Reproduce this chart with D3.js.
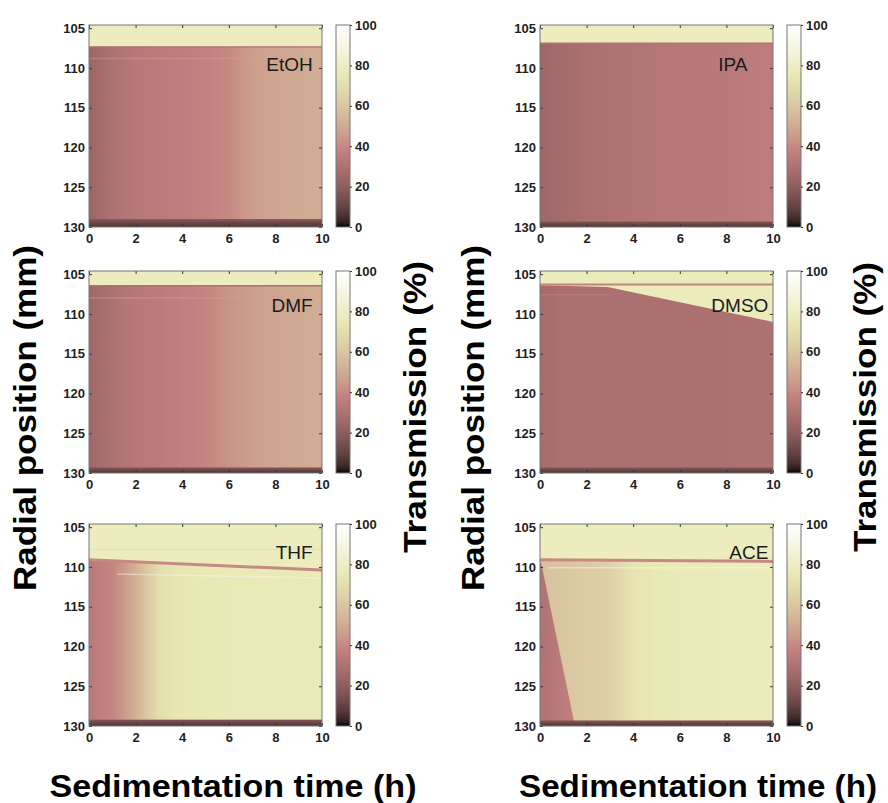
<!DOCTYPE html>
<html lang="en">
<head>
<meta charset="UTF-8">
<title>Sedimentation heatmaps</title>
<script src="https://d3js.org/d3.v7.min.js"></script>
<style>
  body { margin: 0; background: #fff; }
  text { font-family: "Liberation Sans", Arial, sans-serif; }
</style>
</head>
<body>
<div id="chart"></div>
<script>
// panels, row by row
var solvents = ["EtOH", "IPA", "DMF", "DMSO", "THF", "ACE"];

// time stops (h) where the bulk transmission was read
var times = [0, 1, 2, 3, 4, 5, 6, 7, 8, 9, 10];

// bulk transmission (%) below the meniscus at each time stop
var bulkEtOH = [24, 30, 33, 35, 36, 38, 40, 46, 48, 50, 51];
var bulkIPA  = [25, 27, 29, 30, 31, 32, 33, 33, 34, 35, 36];
var bulkDMF  = [25, 30, 33, 35, 37, 39, 43, 46, 48, 50, 51];
var bulkDMSO = [27, 29, 29, 29, 29, 29, 29, 29, 29, 30, 30];
var bulkTHF  = [34, 39, 52, 70, 74, 75, 76, 76, 76, 76, 76];
var bulkACE  = [58, 60, 62, 64, 73, 75, 76, 76, 77, 77, 77];
var bulk = [bulkEtOH, bulkIPA, bulkDMF, bulkDMSO, bulkTHF, bulkACE];

// meniscus (mm) at t = 0 and t = 10
var meniscusStart = [107.35, 106.9, 106.45, 106.3, 109.1, 109.1];
var meniscusEnd   = [107.35, 106.9, 106.45, 106.3, 110.4, 109.3];
var meniscusLine  = [30, 30, 30, 38, 40, 40];   // transmission of the meniscus line (%)
var airValue      = [78, 78, 78, 77, 78, 78];   // clear layer above the meniscus (%)
var bottomStart   = [129.0, 129.3, 129.3, 129.3, 129.2, 129.3];
var bottomValues  = [18, 6];                    // dark band at the cell bottom, top -> base (%)

// DMSO: front of the clear zone
var dmsoFrontTime = [0, 2.9, 10];
var dmsoFrontPos  = [106.4, 106.6, 111.0];
// ACE: unsettled wedge at early times
var aceWedgeTime  = [0.05, 1.5];
var aceWedgePos   = [109.5, 130];
var aceWedgeValue = [30, 38];

// faint streaks: [panel, t0, r0, t1, r1, transmission]
var streaks = [
  [0, 0, 108.8, 10, 108.8, 48],
  [2, 0, 108.0, 10, 108.0, 48],
  [3, 0, 107.6, 2.9, 107.6, 40],
  [4, 0, 107.8, 10, 107.8, 68],
  [4, 1.2, 110.9, 10, 111.4, 92],
  [5, 0.3, 110.1, 10, 110.1, 94]
];

var xTicks = [0, 2, 4, 6, 8, 10];
var yTicks = [105, 110, 115, 120, 125, 130];
var cTicks = [0, 20, 40, 60, 80, 100];

// matlab "pink" colormap
function pink(p) {
  var v = Math.max(0, Math.min(1, p / 100));
  var hr = Math.min(1, v / 0.375),
      hg = Math.max(0, Math.min(1, (v - 0.375) / 0.375)),
      hb = Math.max(0, (v - 0.75) / 0.25);
  return d3.rgb(255 * Math.sqrt((2 * v + hr) / 3),
                255 * Math.sqrt((2 * v + hg) / 3),
                255 * Math.sqrt((2 * v + hb) / 3)).formatHex();
}

var W = 888, H = 803;
var colX = [89, 540], rowY = [25, 271, 524];
var pw = 233, ph = 202, cbGap = 247, cbW = 14;

var svg = d3.select("#chart").append("svg")
    .attr("width", W).attr("height", H);
var defs = svg.append("defs");

// colorbar gradient
var cbGrad = defs.append("linearGradient").attr("id", "cbar")
    .attr("x1", 0).attr("y1", 1).attr("x2", 0).attr("y2", 0);
d3.range(0, 101, 2).forEach(function(v) {
  cbGrad.append("stop").attr("offset", v / 100).attr("stop-color", pink(v));
});

var x = d3.scaleLinear().domain([0, 10]).range([0, pw]);
var y = d3.scaleLinear().domain([104.6, 130]).range([0, ph]);
var cy = d3.scaleLinear().domain([0, 100]).range([ph, 0]);

function styleText(sel) {
  sel.attr("font-size", 13).attr("font-weight", "bold")
    .attr("fill", "#1e1e1e").attr("font-family", "Liberation Sans, Arial, sans-serif");
}

solvents.forEach(function(name, i) {
  var g = svg.append("g")
      .attr("transform", "translate(" + colX[i % 2] + "," + rowY[Math.floor(i / 2)] + ")");

  defs.append("clipPath").attr("id", "clip" + i)
    .append("rect").attr("width", pw).attr("height", ph);

  // horizontal gradient for the bulk
  var bg = defs.append("linearGradient").attr("id", "bulk" + i)
      .attr("gradientUnits", "userSpaceOnUse")
      .attr("x1", x(0)).attr("x2", x(10)).attr("y1", 0).attr("y2", 0);
  times.forEach(function(t, k) {
    bg.append("stop").attr("offset", t / 10).attr("stop-color", pink(bulk[i][k]));
  });
  var btm = defs.append("linearGradient").attr("id", "btm" + i)
      .attr("x1", 0).attr("x2", 0).attr("y1", 0).attr("y2", 1);
  btm.append("stop").attr("offset", 0).attr("stop-color", pink(bottomValues[0]));
  btm.append("stop").attr("offset", 1).attr("stop-color", pink(bottomValues[1]));

  var plot = g.append("g").attr("clip-path", "url(#clip" + i + ")");

  plot.append("rect").attr("width", pw).attr("height", ph).attr("fill", pink(airValue[i]));

  var line = d3.line().x(function(d) { return x(d[0]); }).y(function(d) { return y(d[1]); });

  // bulk region under the meniscus
  plot.append("path")
    .attr("d", line([[0, meniscusStart[i]], [10, meniscusEnd[i]], [10, 130], [0, 130]]) + "Z")
    .attr("fill", "url(#bulk" + i + ")");

  // DMSO clear zone
  if (name === "DMSO") {
    var pts = dmsoFrontTime.map(function(t, k) { return [t, dmsoFrontPos[k]]; });
    pts = pts.concat([[10, meniscusEnd[i]], [0, meniscusStart[i]]]);
    plot.append("path").attr("d", line(pts) + "Z").attr("fill", pink(airValue[i]));
  }

  // ACE wedge
  if (name === "ACE") {
    var wg = defs.append("linearGradient").attr("id", "wedge" + i)
        .attr("gradientUnits", "userSpaceOnUse")
        .attr("x1", x(0)).attr("x2", x(aceWedgeTime[1])).attr("y1", 0).attr("y2", 0);
    wg.append("stop").attr("offset", 0).attr("stop-color", pink(aceWedgeValue[0]));
    wg.append("stop").attr("offset", 1).attr("stop-color", pink(aceWedgeValue[1]));
    var wp = [[0, aceWedgePos[0]], [aceWedgeTime[0], aceWedgePos[0]],
              [aceWedgeTime[1], aceWedgePos[1]], [0, aceWedgePos[1]]];
    plot.append("path").attr("d", line(wp) + "Z").attr("fill", "url(#wedge" + i + ")");
  }

  streaks.filter(function(s) { return s[0] === i; }).forEach(function(s) {
    plot.append("path").attr("d", line([[s[1], s[2]], [s[3], s[4]]]))
      .attr("stroke", pink(s[5])).attr("stroke-width", 1.5).attr("fill", "none")
      .attr("opacity", 0.45);
  });

  // meniscus line
  plot.append("path").attr("d", line([[0, meniscusStart[i]], [10, meniscusEnd[i]]]))
    .attr("stroke", pink(meniscusLine[i]))
    .attr("stroke-width", i >= 4 ? 3 : (i === 3 ? 2.2 : 1.4))
    .attr("fill", "none");

  // dark band at the bottom
  plot.append("rect")
    .attr("x", 0).attr("y", y(bottomStart[i]))
    .attr("width", pw).attr("height", y(130) - y(bottomStart[i]))
    .attr("fill", "url(#btm" + i + ")");

  // axes, matlab style inward ticks
  var axes = [
    g.append("g").attr("transform", "translate(0," + ph + ")")
      .call(d3.axisBottom(x).tickValues(xTicks).tickSize(-3).tickPadding(7)),
    g.append("g").call(d3.axisTop(x).tickValues(xTicks).tickSize(-3).tickFormat("")),
    g.append("g").call(d3.axisLeft(y).tickValues(yTicks).tickSize(-3).tickPadding(4)),
    g.append("g").attr("transform", "translate(" + pw + ",0)")
      .call(d3.axisRight(y).tickValues(yTicks).tickSize(-3).tickFormat(""))
  ];
  axes.forEach(function(a) {
    a.select(".domain").remove();
    a.selectAll("line").attr("stroke", "#333");
    styleText(a.selectAll("text"));
  });
  g.append("rect").attr("width", pw).attr("height", ph)
    .attr("fill", "none").attr("stroke", "#777").attr("stroke-width", 1);

  // panel label
  g.append("text")
    .attr("x", name === "IPA" ? x(8.9) : (i % 2 ? x(9.8) : x(9.6)))
    .attr("y", i < 2 ? y(110.4) : (i < 4 ? y(109.8) : y(109.0)))
    .attr("text-anchor", "end")
    .attr("font-size", 19)
    .attr("fill", "#1a1a1a")
    .text(name);

  // colorbar
  var cb = g.append("g").attr("transform", "translate(" + cbGap + ",0)");
  cb.append("rect").attr("width", cbW).attr("height", ph)
    .attr("fill", "url(#cbar)").attr("stroke", "#777");
  var ca = cb.append("g").attr("transform", "translate(" + cbW + ",0)")
    .call(d3.axisRight(cy).tickValues(cTicks).tickSize(2).tickPadding(3));
  ca.select(".domain").remove();
  ca.selectAll("line").attr("stroke", "#333");
  styleText(ca.selectAll("text"));
});

// shared titles
function vLabel(cx, cyy, txt, len) {
  svg.append("text")
    .attr("transform", "translate(" + cx + "," + cyy + ") rotate(-90)")
    .attr("text-anchor", "middle")
    .attr("font-size", 31).attr("font-weight", "bold").attr("fill", "#000")
    .attr("textLength", len).attr("lengthAdjust", "spacingAndGlyphs")
    .text(txt);
}
vLabel(36, 418, "Radial position (mm)", 346);
vLabel(484, 418, "Radial position (mm)", 346);
vLabel(426, 407, "Transmission (%)", 292);
vLabel(876, 407, "Transmission (%)", 290);

[[233, 367], [698, 358]].forEach(function(p) {
  svg.append("text")
    .attr("x", p[0]).attr("y", 797)
    .attr("text-anchor", "middle")
    .attr("font-size", 31).attr("font-weight", "bold").attr("fill", "#000")
    .attr("textLength", p[1]).attr("lengthAdjust", "spacingAndGlyphs")
    .text("Sedimentation time (h)");
});
</script>
</body>
</html>
